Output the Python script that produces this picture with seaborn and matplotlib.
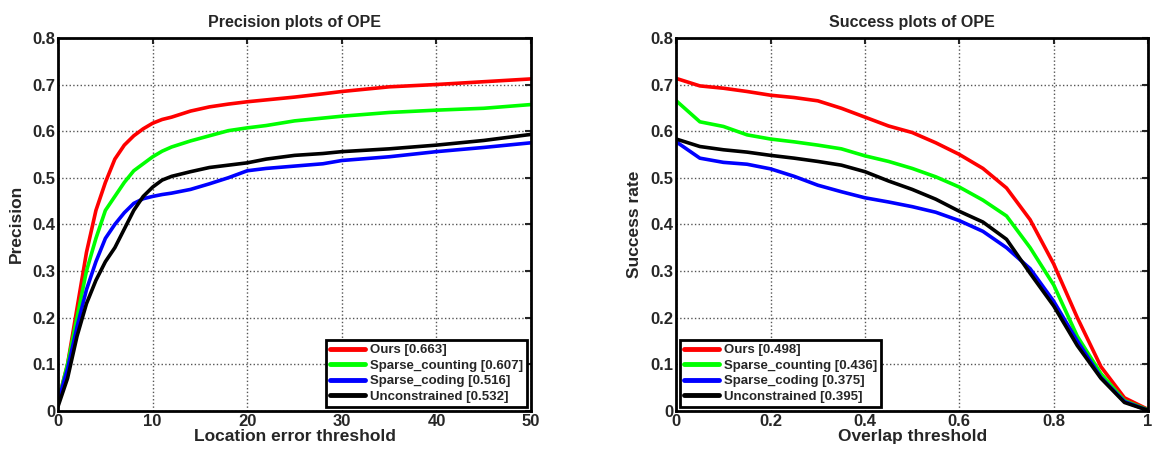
import pandas as pd
import numpy as np
import matplotlib
matplotlib.use("Agg")
import matplotlib.pyplot as plt
import seaborn as sns

# method names and AUC / precision scores shown in the legends
methods = ["Ours", "Sparse_counting", "Sparse_coding", "Unconstrained"]
prec_scores = ["0.663", "0.607", "0.516", "0.532"]
succ_scores = ["0.498", "0.436", "0.375", "0.395"]
colors = ["#ff0000", "#00ff00", "#0000ff", "#000000"]

# precision plot: location error threshold
loc_thr = [0, 1, 2, 3, 4, 5, 6, 7, 8, 9, 10, 11, 12, 14, 16, 18, 20, 22, 25, 28, 30, 35, 40, 45, 50]
prec_ours = [0.02, 0.10, 0.22, 0.34, 0.43, 0.49, 0.54, 0.57, 0.59, 0.605, 0.617, 0.625, 0.630, 0.643, 0.652,
             0.658, 0.663, 0.667, 0.673, 0.680, 0.685, 0.695, 0.700, 0.706, 0.712]
prec_count = [0.02, 0.10, 0.20, 0.30, 0.37, 0.43, 0.46, 0.49, 0.515, 0.530, 0.545, 0.557, 0.566, 0.579, 0.590,
              0.601, 0.607, 0.612, 0.622, 0.628, 0.632, 0.640, 0.645, 0.649, 0.657]
prec_coding = [0.02, 0.09, 0.18, 0.26, 0.32, 0.37, 0.40, 0.425, 0.445, 0.455, 0.460, 0.464, 0.467, 0.475, 0.487,
               0.500, 0.515, 0.520, 0.525, 0.530, 0.537, 0.545, 0.556, 0.565, 0.575]
prec_uncon = [0.01, 0.07, 0.16, 0.23, 0.28, 0.32, 0.35, 0.39, 0.43, 0.46, 0.48, 0.495, 0.503, 0.513, 0.522,
              0.527, 0.532, 0.540, 0.548, 0.552, 0.556, 0.562, 0.570, 0.580, 0.593]

# success plot: overlap threshold
ovl_thr = [0, 0.05, 0.1, 0.15, 0.2, 0.25, 0.3, 0.35, 0.4, 0.45, 0.5, 0.55, 0.6, 0.65, 0.7, 0.75, 0.8, 0.85, 0.9, 0.95, 1.0]
succ_ours = [0.713, 0.697, 0.692, 0.685, 0.677, 0.672, 0.665, 0.649, 0.630, 0.611, 0.597, 0.575, 0.550, 0.520,
             0.478, 0.410, 0.315, 0.200, 0.095, 0.028, 0.003]
succ_count = [0.665, 0.620, 0.610, 0.592, 0.583, 0.577, 0.570, 0.562, 0.547, 0.535, 0.520, 0.502, 0.480, 0.452,
              0.418, 0.350, 0.270, 0.160, 0.080, 0.022, 0.002]
succ_coding = [0.577, 0.542, 0.533, 0.529, 0.519, 0.503, 0.484, 0.470, 0.457, 0.448, 0.438, 0.426, 0.408, 0.385,
               0.350, 0.305, 0.235, 0.150, 0.072, 0.020, 0.001]
succ_uncon = [0.583, 0.567, 0.560, 0.555, 0.548, 0.542, 0.535, 0.527, 0.513, 0.493, 0.475, 0.454, 0.428, 0.405,
              0.368, 0.295, 0.225, 0.140, 0.070, 0.018, 0.001]


def make_df(x, series, scores):
    rows = []
    for name, sc, vals in zip(methods, scores, series):
        lab = name + " [" + sc + "]"
        for xv, yv in zip(x, vals):
            rows.append({"x": xv, "y": yv, "method": lab})
    return pd.DataFrame(rows)


df_prec = make_df(loc_thr, [prec_ours, prec_count, prec_coding, prec_uncon], prec_scores)
df_succ = make_df(ovl_thr, [succ_ours, succ_count, succ_coding, succ_uncon], succ_scores)

sns.set_style("white")
plt.rcParams["font.family"] = ["Liberation Sans", "DejaVu Sans"]
plt.rcParams["font.weight"] = "bold"

fig = plt.figure(figsize=(11.62, 4.51), dpi=100)
ax1 = fig.add_axes([0.050, 0.089, 0.407, 0.827])
ax2 = fig.add_axes([0.582, 0.089, 0.406, 0.827])


def style_ax(ax, xlim, xticks, xticklabels, title, xlabel, ylabel, loc):
    ax.set_xlim(*xlim)
    ax.set_ylim(0, 0.8)
    ax.set_xticks(xticks)
    ax.set_xticklabels(xticklabels, fontsize=12, fontweight="bold")
    yt = np.arange(0, 0.81, 0.1)
    ax.set_yticks(yt)
    ax.set_yticklabels(["0"] + ["%.1f" % v for v in yt[1:]], fontsize=12, fontweight="bold")
    ax.grid(True, linestyle=":", color="#555555", linewidth=1.0)
    ax.tick_params(direction="in", top=True, right=True, length=4, width=1.5, pad=2)
    for s in ax.spines.values():
        s.set_color("black")
        s.set_linewidth(2)
    ax.set_title(title, fontsize=11.5, fontweight="bold", pad=8)
    ax.set_xlabel(xlabel, fontsize=12.5, fontweight="bold", labelpad=0)
    ax.set_ylabel(ylabel, fontsize=12.5, fontweight="bold", labelpad=6)
    leg = ax.legend(loc=loc, fontsize=9.5, frameon=True, fancybox=False, handlelength=2.6,
                    borderpad=0.3, labelspacing=0.25, handletextpad=0.4, borderaxespad=0.3)
    leg.get_frame().set_edgecolor("black")
    leg.get_frame().set_linewidth(2)
    leg.get_frame().set_alpha(1)
    for t in leg.get_texts():
        t.set_fontweight("bold")
    for l in leg.get_lines():
        l.set_linewidth(3.5)


sns.lineplot(data=df_prec, x="x", y="y", hue="method", palette=colors, linewidth=2.6, ax=ax1)
sns.lineplot(data=df_succ, x="x", y="y", hue="method", palette=colors, linewidth=2.6, ax=ax2)

style_ax(ax1, (0, 50), [0, 10, 20, 30, 40, 50], ["0", "10", "20", "30", "40", "50"],
         "Precision plots of OPE", "Location error threshold", "Precision", "lower right")
style_ax(ax2, (0, 1), [0, 0.2, 0.4, 0.6, 0.8, 1.0], ["0", "0.2", "0.4", "0.6", "0.8", "1"],
         "Success plots of OPE", "Overlap threshold", "Success rate", "lower left")

fig.savefig("out.png", dpi=100)
